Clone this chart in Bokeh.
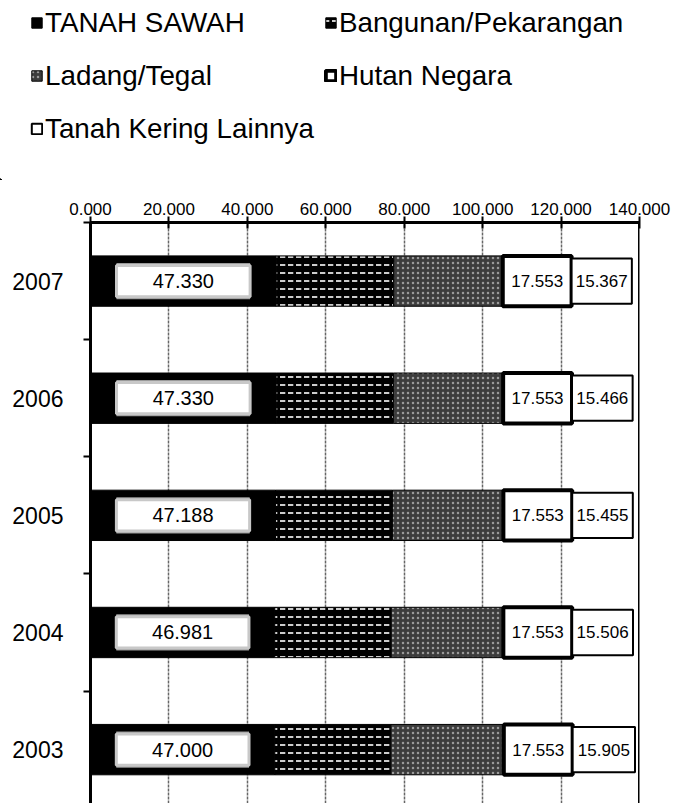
from bokeh.plotting import figure
from bokeh.models import (ColumnDataSource, FixedTicker, Legend, LegendItem, Span,
                          Range1d)
from bokeh.layouts import column
from bokeh.core.properties import value
from bokeh.embed import file_html
from bokeh.resources import INLINE
import numpy as np

# ---------------- data ----------------
years = ["2003", "2004", "2005", "2006", "2007"]
tanah_sawah = [47.000, 46.981, 47.188, 47.330, 47.330]
bangunan = [29.6, 29.7, 29.8, 29.9, 30.0]
ladang = [28.8, 28.6, 28.3, 28.0, 27.8]
hutan_negara = [17.553, 17.553, 17.553, 17.553, 17.553]
tanah_kering = [15.905, 15.506, 15.455, 15.466, 15.367]
series_names = ["TANAH SAWAH", "Bangunan/Pekarangan", "Ladang/Tegal",
                "Hutan Negara", "Tanah Kering Lainnya"]
x_ticks = [0, 20, 40, 60, 80, 100, 120, 140]
x_tick_labels = ["0.000", "20.000", "40.000", "60.000", "80.000",
                 "100.000", "120.000", "140.000"]

FONT = "Liberation Sans"
BAR_H = 0.43

styles = [
    dict(fill_color="black", line_color="black", line_width=1),
    dict(fill_color="black", line_color="black", line_width=1,
         hatch_pattern="horizontal_dash", hatch_color="white",
         hatch_scale=8, hatch_weight=1.6),
    dict(fill_color="#3c3c3c", line_color="black", line_width=1,
         hatch_pattern="dot", hatch_color="#9a9a9a",
         hatch_scale=5, hatch_weight=1.5),
    dict(fill_color="white", line_color="black", line_width=4),
    dict(fill_color="white", line_color="black", line_width=2),
]
heights = [BAR_H, BAR_H, BAR_H, BAR_H, BAR_H * 0.9]

pos = np.arange(len(years), dtype=float)
vals = np.array([tanah_sawah, bangunan, ladang, hutan_negara, tanah_kering])
right = np.cumsum(vals, axis=0)
left = right - vals


def fmt(v):
    return f"{v:.3f}"


src = ColumnDataSource(dict(
    y=pos,
    c0=(left[0] + right[0]) / 2, w0=vals[0] * 0.72,
    c3=(left[3] + right[3]) / 2, c4=(left[4] + right[4]) / 2,
    t0=[fmt(v) for v in tanah_sawah],
    t3=[fmt(v) for v in hutan_negara],
    t4=[fmt(v) for v in tanah_kering],
    **{f"l{i}": left[i] for i in range(5)},
    **{f"r{i}": right[i] for i in range(5)},
))

# ---------------- main chart ----------------
p = figure(width=673, height=623, output_backend="svg", toolbar_location=None,
           x_range=Range1d(x_ticks[0], x_ticks[-1]), y_range=Range1d(-0.46, 4.5),
           x_axis_location="above",
           min_border_left=90, min_border_right=34, min_border_top=42,
           min_border_bottom=0, outline_line_color=None)
p.frame_align = False

renderers = []
for i in range(5):
    r = p.hbar(y="y", left=f"l{i}", right=f"r{i}", height=heights[i],
               source=src, **styles[i])
    renderers.append(r)
    if i == 0:
        # fuzzy white label field inside the sawah segment
        p.rect(x="c0", y="y", width="w0", height=BAR_H * 0.72, source=src,
               fill_color="#9a9a9a", line_color=None)
        p.rect(x="c0", y="y", width="w0", height=BAR_H * 0.62, source=src,
               fill_color="white", line_color="#c8c8c8", line_width=3)

p.text(x="c0", y="y", text="t0", source=src, text_align="center",
       text_baseline="middle", text_font=value(FONT), text_font_size="20px",
       text_color="black")
for c, t in (("c3", "t3"), ("c4", "t4")):
    p.text(x=c, y="y", text=t, source=src, text_align="center",
           text_baseline="middle", text_font=value(FONT),
           text_font_size="17px", text_color="black")

# right border of the plot area
p.add_layout(Span(location=x_ticks[-1], dimension="height", line_color="black",
                  line_width=3))

xa = p.xaxis[0]
xa.ticker = FixedTicker(ticks=x_ticks, minor_ticks=[])
xa.major_label_overrides = {t: s for t, s in zip(x_ticks, x_tick_labels)}
xa.major_label_text_font = FONT
xa.major_label_text_font_size = "17px"
xa.major_label_text_color = "black"
xa.major_label_standoff = 2
xa.major_tick_in = 6
xa.major_tick_out = 6
xa.major_tick_line_width = 2
xa.major_tick_line_color = "black"
xa.axis_line_width = 3
xa.axis_line_color = "black"

ya = p.yaxis[0]
bounds = list(pos - 0.5) + [pos[-1] + 0.5]
ya.ticker = FixedTicker(ticks=list(pos), minor_ticks=bounds)
ya.major_label_overrides = {float(i): y for i, y in zip(pos, years)}
ya.major_label_text_font = FONT
ya.major_label_text_font_size = "23px"
ya.major_label_text_color = "black"
ya.major_tick_line_color = None
ya.major_tick_out = 0
ya.major_tick_in = 0
ya.major_label_standoff = 20
ya.minor_tick_in = 0
ya.minor_tick_out = 7
ya.minor_tick_line_width = 2
ya.minor_tick_line_color = "black"
ya.axis_line_width = 3
ya.axis_line_color = "black"

p.xgrid.ticker = FixedTicker(ticks=x_ticks[1:-1])
p.xgrid.grid_line_color = "#666666"
p.xgrid.grid_line_width = 1.5
p.xgrid.grid_line_dash = "3 1"
p.ygrid.grid_line_color = None

# ---------------- legend strip ----------------
# same data, but the strip's ranges keep the bars out of view: only the legend shows
lf = figure(width=673, height=180, output_backend="svg", toolbar_location=None,
            x_range=Range1d(300, 400), y_range=Range1d(20, 30),
            x_axis_location=None, y_axis_location=None,
            min_border=0, outline_line_color=None)
lf.frame_align = False
lf.grid.visible = False
leg_r = [lf.hbar(y="y", left=f"l{i}", right=f"r{i}", height=heights[i],
                 source=src, **styles[i]) for i in range(5)]
legend = Legend(items=[LegendItem(label=n, renderers=[r]) for n, r in
                       zip(series_names, leg_r)],
                ncols=2, orientation="horizontal", location=(30, 30),
                label_text_font=FONT, label_text_font_size="27.8px",
                label_text_color="black", glyph_width=13, glyph_height=13,
                label_standoff=2, label_height=43, spacing=10, padding=0,
                margin=0, border_line_color=None, background_fill_alpha=0)
lf.add_layout(legend)

layout = column(lf, p, spacing=0)
open("out.html", "w").write(file_html(layout, INLINE))
